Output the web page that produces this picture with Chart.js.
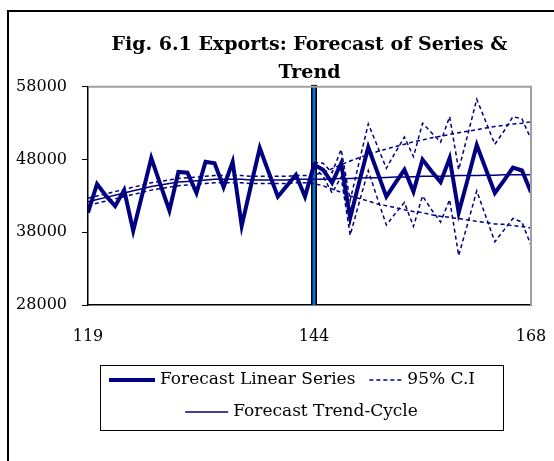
<!DOCTYPE html>
<html>
<head>
<meta charset="utf-8">
<script src="https://cdn.jsdelivr.net/npm/chart.js@4.4.1/dist/chart.umd.min.js"></script>
<style>
  html, body { margin: 0; padding: 0; background: #fff; overflow: hidden; }
  #wrap { position: relative; width: 554px; height: 461px; }
  #frame { position: absolute; left: 7px; top: 10px; width: 600px; height: 500px;
           border-left: 2px solid #000; border-top: 2px solid #000; }
  canvas { position: absolute; left: 0; top: 0; }
</style>
</head>
<body>
<div id="wrap">
  <div id="frame"></div>
  <canvas id="chart" width="554" height="461"></canvas>
</div>
<script>
// periods 119..168
const periods = [
  119, 120, 121, 122, 123, 124, 125, 126, 127, 128,
  129, 130, 131, 132, 133, 134, 135, 136, 137, 138,
  139, 140, 141, 142, 143, 144, 145, 146, 147, 148,
  149, 150, 151, 152, 153, 154, 155, 156, 157, 158,
  159, 160, 161, 162, 163, 164, 165, 166, 167, 168
];

const series = [
  40700, 44650, 43000, 41600, 43800, 38200, 43200, 48200, 44600, 41000,
  46300, 46200, 43400, 47700, 47500, 44200, 47700, 38900, 44300, 49600,
  46200, 42900, 44400, 45900, 42900, 47300, 46600, 44800, 47500, 40000,
  44900, 49700, 46300, 42900, 44800, 46600, 43600, 48000, 46400, 44900,
  48200, 40700, 45300, 50000, 46700, 43400, 45100, 46900, 46500, 43500
];

const trend = [
  42200, 42500, 42800, 43100, 43400, 43700, 44000, 44300, 44500, 44700,
  44900, 45000, 45100, 45200, 45300, 45300, 45300, 45300, 45200, 45200,
  45200, 45200, 45200, 45300, 45300, 45300, 45300, 45350, 45400, 45400,
  45450, 45500, 45500, 45550, 45600, 45600, 45650, 45700, 45700, 45700,
  45750, 45800, 45800, 45800, 45850, 45850, 45900, 45900, 45900, 45900
];

const trendUpper = [
  42700, 43000, 43300, 43600, 43900, 44200, 44500, 44800, 45000, 45200,
  45400, 45500, 45600, 45700, 45800, 45800, 45800, 45800, 45700, 45700,
  45700, 45700, 45700, 45800, 45800, 45900, 46200, 46750, 47300, 47800,
  48250, 48700, 49100, 49450, 49800, 50100, 50450, 50700, 51000, 51200,
  51450, 51700, 51900, 52100, 52350, 52550, 52700, 52900, 53000, 53200
];

const trendLower = [
  41700, 42000, 42300, 42600, 42900, 43200, 43500, 43800, 44000, 44200,
  44400, 44500, 44600, 44700, 44800, 44800, 44800, 44800, 44700, 44700,
  44700, 44700, 44700, 44800, 44800, 44700, 44400, 43950, 43500, 43000,
  42650, 42300, 41900, 41650, 41400, 41100, 40850, 40700, 40400, 40200,
  40050, 39900, 39700, 39500, 39350, 39150, 39100, 38900, 38800, 38600
];

// forecast part, 95% C.I. of the series
const ciPeriods = [
  144, 145, 146, 147, 148, 149, 150, 151, 152, 153, 154, 155,
  156, 157, 158, 159, 160, 161, 162, 163, 164, 165, 166, 167, 168
];
const seriesUpper = [
  47600, 47500, 46200, 49400, 42400, 47700, 52900, 49900, 46800, 49000, 51100, 48400,
  53000, 51700, 50400, 53900, 46600, 51400, 56300, 53200, 50100, 51900, 53900, 53600, 50800
];
const seriesLower = [
  47000, 45700, 43400, 45600, 37600, 42100, 46500, 42700, 39000, 40600, 42100, 38800,
  43000, 41100, 39400, 42500, 34800, 39200, 43700, 40200, 36700, 38300, 39900, 39400, 36200
];

const xTicks = [119, 144, 168];
const yTicks = [28000, 38000, 48000, 58000];
const forecastStart = 144;

const navy = '#000080';
const serif = "'DejaVu Serif', 'Liberation Serif', serif";

Chart.defaults.font.family = serif;
Chart.defaults.color = '#000';

const pts = (xs, ys) => xs.map((x, i) => ({ x: x, y: ys[i] }));

const ciStyle = { borderColor: navy, borderWidth: 1.5, borderDash: [4, 3], pointRadius: 0, tension: 0 };

// blue vertical bar at the forecast origin
const markerPlugin = {
  id: 'marker',
  beforeDatasetsDraw(chart) {
    const { ctx, chartArea } = chart;
    const x = Math.round(chart.scales.x.getPixelForValue(forecastStart));
    ctx.save();
    ctx.fillStyle = '#000';
    ctx.fillRect(x - 3, chartArea.top - 2, 6, chartArea.bottom - chartArea.top + 2);
    ctx.fillStyle = '#0a6fd0';
    ctx.fillRect(x - 1.5, chartArea.top - 1, 3, chartArea.bottom - chartArea.top + 1);
    ctx.restore();
  }
};

// grey top/right edges of the plot area
const plotFrame = {
  id: 'plotFrame',
  afterDraw(chart) {
    const { ctx, chartArea: a } = chart;
    ctx.save();
    ctx.strokeStyle = '#a0a0a0';
    ctx.lineWidth = 2;
    ctx.beginPath();
    ctx.moveTo(a.left + 1, a.top);
    ctx.lineTo(a.right, a.top);
    ctx.lineTo(a.right, a.bottom);
    ctx.stroke();
    ctx.restore();
  }
};

// boxed legend, two rows like the original
const boxLegend = {
  id: 'boxLegend',
  afterDraw(chart) {
    const ctx = chart.ctx;
    const ds = chart.data.datasets;
    const rows = [[0, 2], [1]];
    const rowStart = [9, null];
    const boxL = 100, boxT = 365, boxW = 403, boxH = 65;
    const rowY = [380, 412];
    const sampleW = [46, 43, 33];
    ctx.save();
    ctx.strokeStyle = '#000';
    ctx.lineWidth = 1;
    ctx.strokeRect(boxL + 0.5, boxT + 0.5, boxW, boxH);
    ctx.font = '17px ' + serif;
    ctx.textBaseline = 'middle';
    ctx.fillStyle = '#000';
    rows.forEach((row, r) => {
      const widths = row.map(i => sampleW[i] + 5 + ctx.measureText(ds[i].label).width);
      const total = widths.reduce((s, w) => s + w, 0) + 14 * (row.length - 1);
      let x = rowStart[r] !== null ? boxL + rowStart[r] : boxL + (boxW - total) / 2;
      row.forEach((i, k) => {
        const d = ds[i];
        ctx.strokeStyle = d.borderColor;
        ctx.lineWidth = d.borderWidth;
        ctx.setLineDash(d.borderDash || []);
        ctx.beginPath();
        ctx.moveTo(x, rowY[r]);
        ctx.lineTo(x + sampleW[i], rowY[r]);
        ctx.stroke();
        ctx.setLineDash([]);
        ctx.fillText(d.label, x + sampleW[i] + 5, rowY[r]);
        x += widths[k] + 14;
      });
    });
    ctx.restore();
  }
};

new Chart(document.getElementById('chart'), {
  type: 'line',
  data: {
    datasets: [
      { label: 'Forecast Linear Series', data: pts(periods, series),
        borderColor: navy, borderWidth: 4, pointRadius: 0, tension: 0 },
      { label: 'Forecast Trend-Cycle', data: pts(periods, trend),
        borderColor: navy, borderWidth: 1.5, pointRadius: 0, tension: 0 },
      Object.assign({ label: '95% C.I', data: pts(ciPeriods, seriesUpper) }, ciStyle),
      Object.assign({ label: '95% C.I lower', data: pts(ciPeriods, seriesLower) }, ciStyle),
      Object.assign({ label: 'Trend C.I upper', data: pts(periods, trendUpper) }, ciStyle),
      Object.assign({ label: 'Trend C.I lower', data: pts(periods, trendLower) }, ciStyle)
    ]
  },
  options: {
    responsive: false,
    animation: false,
    layout: { padding: { left: 8, right: 23, top: 0, bottom: 116 } },
    plugins: {
      legend: { display: false },
      tooltip: { enabled: false },
      title: {
        display: true,
        fullSize: false,
        text: ['Fig. 6.1 Exports: Forecast of Series &', 'Trend'],
        font: { size: 19, weight: 'bold', lineHeight: 1.47 },
        color: '#000',
        padding: { top: 31, bottom: 0 }
      }
    },
    scales: {
      x: {
        type: 'linear',
        min: 119,
        max: 168,
        afterBuildTicks: s => { s.ticks = xTicks.map(v => ({ value: v })); },
        afterFit: s => { s.height = 40; s.paddingLeft = 0; s.paddingRight = 0; },
        grid: { display: false, drawTicks: false },
        border: { color: '#000', width: 1.5 },
        ticks: { padding: 22, font: { size: 16 }, maxRotation: 0, callback: v => String(v) }
      },
      y: {
        min: 28000,
        max: 58000,
        afterBuildTicks: s => { s.ticks = yTicks.map(v => ({ value: v })); },
        afterFit: s => { s.width = 80; },
        grid: { drawOnChartArea: false, tickLength: 6, color: '#000' },
        border: { color: '#000', width: 1.5 },
        ticks: { padding: 15, font: { size: 16 }, callback: v => String(v) }
      }
    }
  },
  plugins: [markerPlugin, plotFrame, boxLegend]
});
</script>
</body>
</html>
